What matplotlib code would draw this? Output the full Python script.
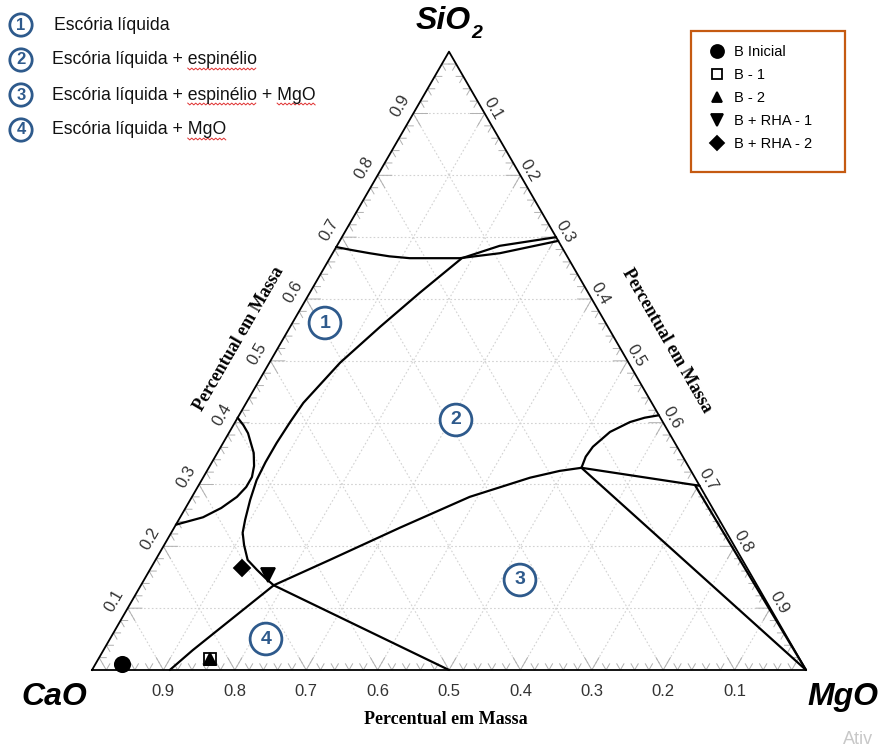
import numpy as np
import matplotlib
matplotlib.use('Agg')
import matplotlib.pyplot as plt
from matplotlib.patches import Rectangle
from matplotlib.lines import Line2D

# compositions as (SiO2, MgO) mass fractions, CaO = rest
top_sio2 = [0.684, 0.679, 0.674, 0.669, 0.666, 0.666, 0.674, 0.694]
top_mgo = [0.000, 0.025, 0.052, 0.082, 0.112, 0.182, 0.234, 0.306]

big_sio2 = [0.700, 0.686, 0.666, 0.610, 0.555, 0.497, 0.432, 0.401, 0.367,
            0.336, 0.307, 0.275, 0.243, 0.222, 0.202, 0.178, 0.162, 0.149,
            0.137, 0.000]
big_mgo = [0.300, 0.228, 0.185, 0.154, 0.126, 0.099, 0.080, 0.077, 0.075,
           0.075, 0.077, 0.084, 0.093, 0.100, 0.112, 0.129, 0.150, 0.168,
           0.186, 0.500]

low_sio2 = [0.000, 0.032, 0.137, 0.178, 0.230, 0.280, 0.311, 0.322, 0.327]
low_mgo = [0.109, 0.125, 0.186, 0.244, 0.316, 0.389, 0.458, 0.494, 0.522]

arc_sio2 = [0.327, 0.345, 0.361, 0.385, 0.401, 0.408, 0.412]
arc_mgo = [0.522, 0.519, 0.521, 0.533, 0.553, 0.570, 0.588]

j7_sio2 = [0.327, 0.298]
j7_mgo = [0.522, 0.702]

edge_sio2 = [0.298, 0.000]
edge_mgo = [0.696, 1.000]

jm_sio2 = [0.327, 0.000]
jm_mgo = [0.522, 1.000]

left_sio2 = [0.408, 0.396, 0.383, 0.351, 0.330, 0.312, 0.296, 0.280, 0.262,
             0.247, 0.235]
left_mgo = [0.000, 0.014, 0.027, 0.051, 0.062, 0.068, 0.068, 0.063, 0.050,
            0.032, 0.000]

# samples
samples = ['B Inicial', 'B - 1', 'B - 2', 'B + RHA - 1', 'B + RHA - 2']
samp_sio2 = [0.010, 0.018, 0.018, 0.154, 0.165]
samp_mgo = [0.037, 0.156, 0.156, 0.169, 0.128]
samp_marker = ['o', 's', '^', 'v', 'D']
samp_size = [11, 9, 9, 10, 8]
samp_face = ['black', 'none', 'black', 'black', 'black']

ticks = [0.1, 0.2, 0.3, 0.4, 0.5, 0.6, 0.7, 0.8, 0.9]

regions = ['1', '2', '3', '4']
region_text = ['Escória líquida', 'Escória líquida + espinélio',
               'Escória líquida + espinélio + MgO', 'Escória líquida + MgO']
# words with the red spell-check squiggle, per key line
squiggled = [[], ['espinélio'], ['espinélio', 'MgO'], ['MgO']]

S3 = np.sqrt(3) / 2


def tern(sio2, mgo):
    sio2 = np.asarray(sio2, float)
    mgo = np.asarray(mgo, float)
    return mgo + sio2 / 2, sio2 * S3


def at(px, py):
    # pixel position in the 881x749 picture -> axes data coords
    return (px - 92) / 714, (670 - py) / 714


fig = plt.figure(figsize=(8.81, 7.49), dpi=100)
ax = fig.add_axes([0, 0, 1, 1])
ax.set_xlim(-92 / 714, 789 / 714)
ax.set_ylim(-79 / 714, 670 / 714)
ax.axis('off')

grid_kw = dict(color='#d2d2d2', lw=0.8, ls=(0, (1.5, 2)), zorder=1)
tick_kw = dict(color='#b0b0b0', lw=0.7, zorder=2)

# grid at 0.1
for v in ticks:
    ax.plot(*tern([v, v], [0, 1 - v]), **grid_kw)
    ax.plot(*tern([0, 1 - v], [v, v]), **grid_kw)
    ax.plot(*tern([0, 1 - v], [1 - v, 0]), **grid_kw)

# small chevron ticks every 0.02
for k in range(1, 50):
    v = k * 0.02
    t = 0.02 if k % 5 == 0 else 0.01
    ax.plot(*tern([t, 0, t], [v, v, v - t]), **tick_kw)
    ax.plot(*tern([v, v, v - t], [t, 0, t]), **tick_kw)
    ax.plot(*tern([v, v, v - t], [1 - v - t, 1 - v, 1 - v]), **tick_kw)

# triangle
ax.plot(*tern([0, 0, 1, 0], [0, 1, 0, 0]), color='black', lw=1.3, zorder=3)

# phase boundaries
for s, m in [(top_sio2, top_mgo), (big_sio2, big_mgo), (low_sio2, low_mgo),
             (arc_sio2, arc_mgo), (j7_sio2, j7_mgo), (edge_sio2, edge_mgo),
             (jm_sio2, jm_mgo), (left_sio2, left_mgo)]:
    ax.plot(*tern(s, m), color='black', lw=1.6, zorder=4,
            solid_capstyle='round', solid_joinstyle='round')

# sample points
handles = []
for name, s, m, mk, ms, fc in zip(samples, samp_sio2, samp_mgo, samp_marker,
                                  samp_size, samp_face):
    ax.plot(*tern([s], [m]), marker=mk, ms=ms, mfc=fc, mec='black',
            mew=1.3, ls='none', zorder=6 if fc == 'black' else 5)
    handles.append(Line2D([], [], marker=mk, ms=ms * 0.85, mfc=fc, mec='black',
                          mew=1.3, ls='none', label=name))

# tick labels
lab_kw = dict(fontsize=12, color='#333333', family='Liberation Sans',
              ha='center', va='center')
for v in ticks:
    x, y = tern(0, 1 - v)
    ax.text(x, y - 21 / 714, f'{v:.1f}', **lab_kw)
    x, y = tern(v, 0)
    ax.text(x - 0.866 * 15 / 714, y + 0.5 * 15 / 714, f'{v:.1f}',
            rotation=60, **lab_kw)
    x, y = tern(1 - v, v)
    ax.text(x + 0.866 * 10 / 714, y + 0.5 * 10 / 714, f'{v:.1f}',
            rotation=-60, **lab_kw)

# axis titles
title_kw = dict(fontsize=13, fontweight='bold', family='Liberation Serif',
                ha='center', va='center')
ax.text(*at(446, 720), 'Percentual em Massa', **title_kw)
ax.text(*at(239, 339), 'Percentual em Massa', rotation=60, **title_kw)
ax.text(*at(667, 341), 'Percentual em Massa', rotation=-60, **title_kw)

# vertex labels
vert_kw = dict(fontweight='bold', fontstyle='italic',
               family='Liberation Sans', va='center')
ax.text(*at(471, 21), 'SiO', fontsize=23, ha='right', **vert_kw)
ax.text(*at(471, 34), '2', fontsize=14, ha='left', **vert_kw)
ax.text(*at(54, 697), 'CaO', fontsize=23, ha='center', **vert_kw)
ax.text(*at(843, 697), 'MgO', fontsize=23, ha='center', **vert_kw)

# region numbers
blue = '#2E5A8C'
circ_kw = dict(color=blue, fontweight='bold', family='Liberation Sans',
               ha='center', va='center')
for r, (px, py) in zip(regions, [(325, 323), (456, 420), (520, 580), (266, 639)]):
    ax.text(*at(px, py), r, fontsize=14,
            bbox=dict(boxstyle='circle,pad=0.38', fc='white', ec=blue, lw=2),
            zorder=7, **circ_kw)

# region key top left
fig.canvas.draw()
renderer = fig.canvas.get_renderer()
key_kw = dict(fontsize=12.7, family='Liberation Sans', ha='left', va='center',
              color='#111111')
for i, (r, txt) in enumerate(zip(regions, region_text)):
    py = 25 + 35 * i
    x0 = 54 if i == 0 else 52
    ax.text(*at(21, py), r, fontsize=12,
            bbox=dict(boxstyle='circle,pad=0.22', fc='white', ec=blue, lw=2),
            **circ_kw)
    ax.text(*at(x0, py), txt, **key_kw)
    for word in squiggled[i]:
        idx = txt.index(word)
        probe = ax.text(*at(x0, py), txt[:idx], **key_kw)
        start = x0 + probe.get_window_extent(renderer).width
        probe.set_text(txt[:idx + len(word)])
        end = x0 + probe.get_window_extent(renderer).width
        probe.remove()
        zx = np.arange(start, end, 2.0)
        zy = py + 9 + np.where(np.arange(len(zx)) % 2 == 0, -0.9, 0.9)
        ax.plot((zx - 92) / 714, (670 - zy) / 714, color='#e03030', lw=0.7)

# sample legend with orange frame
fig.patches.append(Rectangle((691 / 881, 1 - 172 / 749), 154 / 881, 141 / 749,
                             transform=fig.transFigure, fill=False,
                             ec='#C55A11', lw=1.6))
leg = ax.legend(handles=handles, loc='upper left',
                bbox_to_anchor=(698 / 881, 1 - 35 / 749),
                bbox_transform=fig.transFigure, frameon=False,
                prop={'family': 'Liberation Sans', 'size': 10.5},
                handlelength=1.2, handletextpad=0.55, labelspacing=0.62,
                borderpad=0.2)

ax.text(*at(843, 739), 'Ativ', fontsize=13, color='#c8c8c8',
        family='Liberation Sans', ha='left', va='center')

fig.savefig('out.png', dpi=100)
